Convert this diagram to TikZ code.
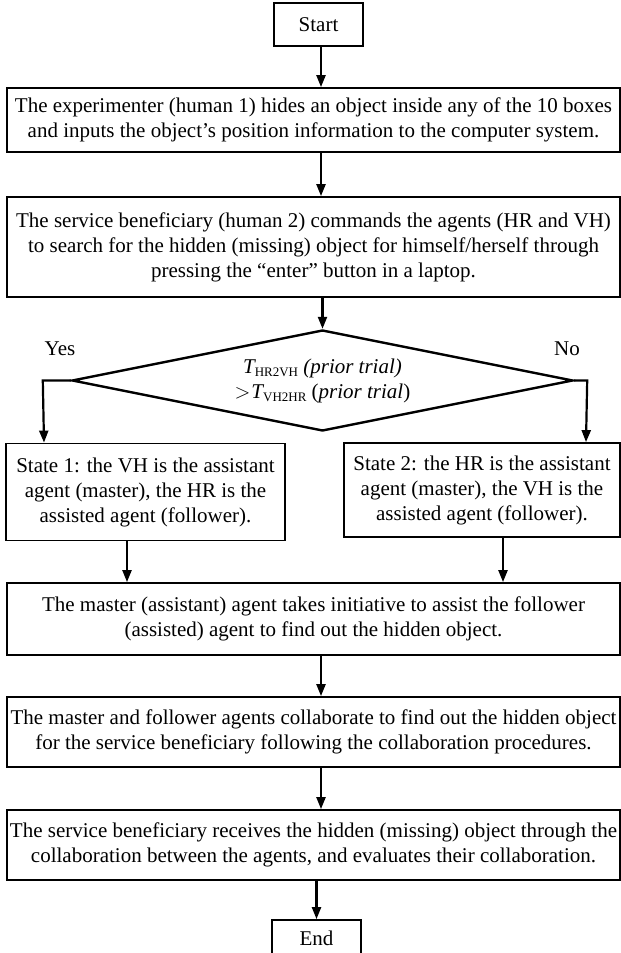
\documentclass[tikz,border=0pt]{standalone}
\usepackage{fontspec}
\setmainfont{Liberation Serif}
\usetikzlibrary{arrows.meta,shapes.geometric}
\begin{document}
\begin{tikzpicture}[x=1pt,y=-1pt,
  box/.style={draw,line width=1.8pt,align=center,inner sep=0pt,font=\fontsize{21}{25}\selectfont},
  wide/.style={box,minimum width=613pt},
  arr/.style={line width=2.2pt,-{Triangle[width=9pt,length=12pt]}},
  lbl/.style={font=\fontsize{21}{25}\selectfont,inner sep=0pt}]
\path[use as bounding box] (0,0) rectangle (621,953);
\clip (0,0) rectangle (621,953);
\node[box,minimum width=89pt,minimum height=43pt] (start) at (318.5,24.5) {Start};
\node[wide,minimum height=64pt] (b1) at (313.5,120) {The experimenter (human 1) hides an object inside any of the 10 boxes\\and inputs the object’s position information to the computer system.};
\node[wide,minimum height=100pt] (b2) at (313.5,247) {The service beneficiary (human 2) commands the agents (HR and VH)\\to search for the hidden (missing) object for himself/herself through\\pressing the “enter” button in a laptop.};
\node[diamond,draw,line width=2.4pt,aspect=4.96,minimum width=501pt,minimum height=101pt,inner sep=0pt,align=center,font=\fontsize{21}{25}\selectfont] (dia) at (322.5,380.5)
  {{\itshape T}\raisebox{-0.35ex}{\fontsize{13}{13}\selectfont HR2VH} \textit{(prior trial)}\\${>}$\kern1pt{\itshape T}\raisebox{-0.35ex}{\fontsize{13}{13}\selectfont VH2HR} (\textit{prior trial})};
\node[lbl] (yes) at (60,349) {Yes};
\node[lbl] (no) at (567,349) {No};
\node[box,minimum width=279pt,minimum height=97pt] (s1) at (145.5,492) {State 1: the VH is the assistant\\agent (master), the HR is the\\assisted agent (follower).};
\node[box,minimum width=276pt,minimum height=94pt] (s2) at (482,490) {State 2: the HR is the assistant\\agent (master), the VH is the\\assisted agent (follower).};
\node[wide,minimum height=72pt] (m) at (313.5,619) {The master (assistant) agent takes initiative to assist the follower\\(assisted) agent to find out the hidden object.};
\node[wide,minimum height=70pt] (c) at (313.5,732) {The master and follower agents collaborate to find out the hidden object\\for the service beneficiary following the collaboration procedures.};
\node[wide,minimum height=70pt] (r) at (313.5,845) {The service beneficiary receives the hidden (missing) object through the\\collaboration between the agents, and evaluates their collaboration.};
\node[box,minimum width=89pt,minimum height=36pt] (e) at (316.5,938) {End};
\draw[arr] (start.south -| 321,0) -- (321,0 |- b1.north);
\draw[arr] (b1.south -| 321,0) -- (321,0 |- b2.north);
\draw[arr] (b2.south -| dia.north) -- (dia.north);
\draw[arr] (dia.west) -- ++(-28,0) -- ([xshift=-101.5pt]s1.north);
\draw[arr] (dia.east) -- ++(13,0) -- ([xshift=104pt]s2.north);
\draw[arr] ([xshift=-18.5pt]s1.south) -- ([xshift=-18.5pt]s1.south |- m.north);
\draw[arr] ([xshift=21pt]s2.south) -- ([xshift=21pt]s2.south |- m.north);
\draw[arr] (m.south -| 321,0) -- (321,0 |- c.north);
\draw[arr] (c.south -| 321,0) -- (321,0 |- r.north);
\draw[arr] (r.south -| e.north) -- (e.north);
\end{tikzpicture}
\end{document}
